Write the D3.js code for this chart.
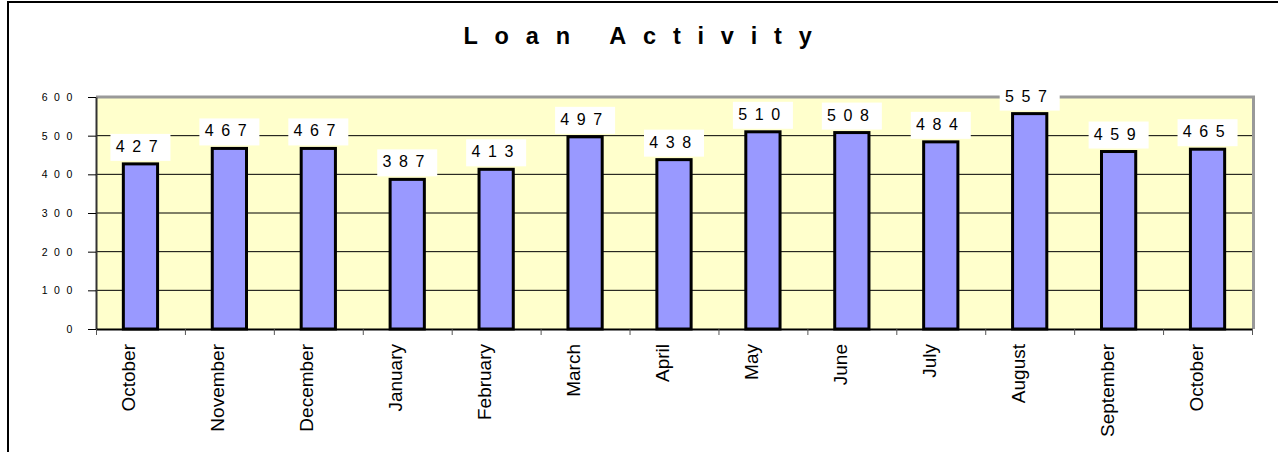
<!DOCTYPE html>
<html lang="en">
<head>
<meta charset="UTF-8">
<title>Loan Activity</title>
<script src="https://d3js.org/d3.v7.min.js"></script>
<style>
body { margin: 0; background: #fff; }
text { font-family: Arial, "Liberation Sans", sans-serif; fill: #000; }
</style>
</head>
<body>
<svg id="canvas" width="1278" height="452"></svg>
<script>
let months = ["October", "November", "December", "January", "February", "March", "April",
              "May", "June", "July", "August", "September", "October"]
let loans = [427, 467, 467, 387, 413, 497, 438, 510, 508, 484, 557, 459, 465]
let yTicks = [0, 100, 200, 300, 400, 500, 600]

let width = 1278, height = 452
let plotLeft = 96, plotRight = 1252, plotTop = 97, plotBottom = 329

let svg = d3.select('#canvas')

// outer frame (left + top edge only visible)
svg.append('path')
   .attr('d', `M8,${height} V2 H${width}`)
   .attr('fill', 'none')
   .attr('stroke', '#000')
   .attr('stroke-width', 2)

// title
svg.append('text')
   .attr('x', 646)
   .attr('y', 44)
   .attr('text-anchor', 'middle')
   .style('font-size', '23.5px')
   .style('font-weight', 'bold')
   .style('letter-spacing', '16.8px')
   .text('Loan Activity')

let x = d3.scaleBand().domain(d3.range(months.length)).range([plotLeft, plotRight])
let xEdge = d3.scaleLinear().domain([0, months.length]).range([plotLeft, plotRight])
let y = d3.scaleLinear().domain([0, 600]).range([plotBottom, plotTop])

// plot area
svg.append('rect')
   .attr('x', plotLeft).attr('y', plotTop)
   .attr('width', plotRight - plotLeft).attr('height', plotBottom - plotTop)
   .attr('fill', '#FFFFCC')

// gridlines
svg.append('g')
   .selectAll('line')
   .data(yTicks.filter(d => d > 0 && d < 600))
   .enter()
   .append('line')
   .attr('x1', plotLeft).attr('x2', plotRight)
   .attr('y1', d => y(d)).attr('y2', d => y(d))
   .attr('stroke', '#000')
   .attr('stroke-width', 1)

// grey top / right border of plot
svg.append('path')
   .attr('d', `M${plotLeft},${y(600)} H${plotRight + 1.5} V${plotBottom}`)
   .attr('fill', 'none')
   .attr('stroke', '#999')
   .attr('stroke-width', 3)

// bars
let barW = x.bandwidth() * 0.385
svg.append('g')
   .selectAll('rect')
   .data(loans)
   .enter()
   .append('rect')
   .attr('x', (d, i) => x(i) + (x.bandwidth() - barW) / 2)
   .attr('y', d => y(d))
   .attr('width', barW)
   .attr('height', d => y(0) - y(d))
   .attr('fill', '#9999FF')
   .attr('stroke', '#000')
   .attr('stroke-width', 3)

// y axis
let yAxis = svg.append('g')
   .attr('transform', `translate(${plotLeft},0)`)
   .call(d3.axisLeft(y).tickValues(yTicks).tickSize(8).tickPadding(9).tickSizeOuter(0))
yAxis.select('.domain').attr('stroke', '#333').attr('stroke-width', 2)
yAxis.selectAll('.tick line').attr('stroke', '#000')
yAxis.selectAll('.tick text')
   .style('font-size', '10.5px')
   .style('letter-spacing', '6.6px')
   .style('font-family', 'Arial, "Liberation Sans", sans-serif')

// x axis: ticks at category boundaries
let xTicks = svg.append('g')
   .attr('transform', `translate(0,${plotBottom})`)
   .call(d3.axisBottom(xEdge).tickValues(d3.range(months.length + 1)).tickFormat('').tickSize(6).tickSizeOuter(0))
xTicks.select('.domain').attr('stroke', '#000').attr('stroke-width', 2)
xTicks.selectAll('.tick line').attr('stroke', '#555')

// x labels
let xLabels = svg.append('g')
   .attr('transform', `translate(0,${plotBottom})`)
   .call(d3.axisBottom(x).tickFormat(i => months[i]).tickSize(0))
xLabels.select('.domain').remove()
xLabels.selectAll('.tick text')
   .attr('transform', 'rotate(-90)')
   .attr('text-anchor', 'end')
   .attr('x', -15)
   .attr('y', 0)
   .attr('dy', '-5px')
   .style('font-size', '19px')
   .style('font-family', 'Arial, "Liberation Sans", sans-serif')

// value labels
let labels = svg.append('g')
   .selectAll('g')
   .data(loans)
   .enter()
   .append('g')
   .attr('transform', (d, i) => `translate(${x(i) + x.bandwidth() / 2},${y(d) - 3})`)
labels.append('rect')
   .attr('x', -30).attr('y', -27)
   .attr('width', 60).attr('height', 27)
   .attr('fill', '#fff')
labels.append('text')
   .attr('y', -9)
   .attr('text-anchor', 'middle')
   .style('font-size', '16px')
   .style('letter-spacing', '7.6px')
   .text(d => d)
</script>
</body>
</html>
